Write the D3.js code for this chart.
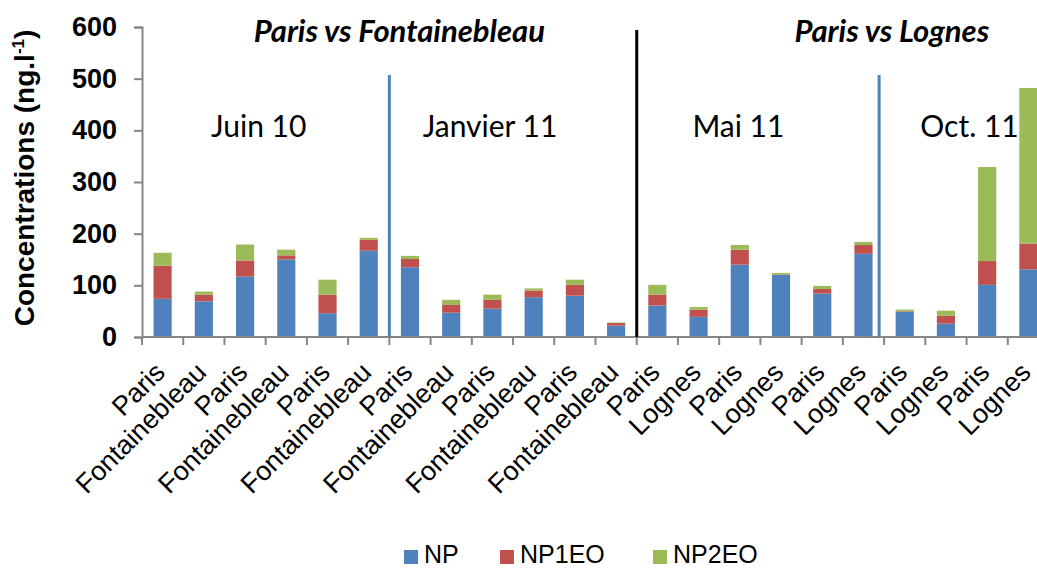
<!DOCTYPE html>
<html>
<head>
<meta charset="utf-8">
<script src="https://cdn.jsdelivr.net/npm/d3@7"></script>
<style>
    body { margin: 0; background: #fff; }
    svg { display: block; }
</style>
</head>
<body>
<div id="chart"></div>
<script>
"use strict";

// Données (ng.l-1)
const sites = [
    "Paris", "Fontainebleau", "Paris", "Fontainebleau", "Paris", "Fontainebleau",
    "Paris", "Fontainebleau", "Paris", "Fontainebleau", "Paris", "Fontainebleau",
    "Paris", "Lognes", "Paris", "Lognes", "Paris", "Lognes",
    "Paris", "Lognes", "Paris", "Lognes"
];
const np = [74, 69, 117, 150, 46, 167, 135, 47, 55, 77, 80, 22, 61, 39, 140, 120, 84, 161, 49, 26, 101, 131];
const np1eo = [64, 13, 31, 8, 36, 21, 16, 15, 17, 13, 21, 5, 21, 14, 29, 1, 9, 17, 1, 15, 46, 50];
const np2eo = [25, 6, 31, 11, 29, 4, 6, 10, 10, 4, 10, 1, 19, 5, 9, 3, 6, 6, 3, 10, 182, 301];
const seriesNames = ["NP", "NP1EO", "NP2EO"];
const colors = ["#4f81bd", "#c0504d", "#9bbb59"];
const yTicks = [0, 100, 200, 300, 400, 500, 600];

// campagnes : premier et dernier indice de barre
const periods = [
    { name: "Juin 10", from: 0, to: 5 },
    { name: "Janvier 11", from: 6, to: 11 },
    { name: "Mai 11", from: 12, to: 17 },
    { name: "Oct. 11", from: 18, to: 21 }
];
const comparisons = [
    { name: "Paris vs Fontainebleau", from: 0, to: 11 },
    { name: "Paris vs Lognes", from: 12, to: 21 }
];

const width = 1037, height = 570;
const plotLeft = 142, plotRight = 1049, plotTop = 27, plotBottom = 337;

const rows = sites.map((s, i) => ({ i: i, NP: np[i], NP1EO: np1eo[i], NP2EO: np2eo[i] }));
const stacked = d3.stack().keys(seriesNames)(rows);

const x = d3.scaleBand()
    .domain(d3.range(sites.length))
    .range([plotLeft, plotRight])
    .paddingInner(0.56)
    .paddingOuter(0.28);
const y = d3.scaleLinear().domain([0, 600]).range([plotBottom, plotTop]);
const step = x.step();
const edge = i => plotLeft + i * step;

const svg = d3.select("#chart").append("svg")
    .attr("width", width)
    .attr("height", height);

// barres empilées
svg.append("g").selectAll("g")
    .data(stacked)
    .join("g")
    .attr("fill", (d, k) => colors[k])
    .selectAll("rect")
    .data(d => d)
    .join("rect")
    .attr("x", d => x(d.data.i))
    .attr("width", x.bandwidth())
    .attr("y", d => y(d[1]))
    .attr("height", d => y(d[0]) - y(d[1]));

// axe Y
const yAxis = svg.append("g")
    .attr("transform", `translate(${plotLeft},0)`)
    .call(d3.axisLeft(y).tickValues(yTicks).tickSize(8).tickPadding(17));
yAxis.select(".domain").attr("stroke", "#868686").attr("stroke-width", 2);
yAxis.selectAll(".tick line").attr("stroke", "#868686").attr("stroke-width", 2);
yAxis.selectAll(".tick text")
    .attr("fill", "#000")
    .style("font", "bold 27px 'Liberation Sans', Arial, sans-serif");

// axe X : traits entre catégories
svg.append("line")
    .attr("x1", plotLeft).attr("x2", plotRight)
    .attr("y1", y(0)).attr("y2", y(0))
    .attr("stroke", "#868686").attr("stroke-width", 2);
svg.append("g").selectAll("line")
    .data(d3.range(sites.length + 1))
    .join("line")
    .attr("x1", d => edge(d)).attr("x2", d => edge(d))
    .attr("y1", y(0)).attr("y2", y(0) + 8)
    .attr("stroke", "#868686").attr("stroke-width", 2);

svg.append("g").selectAll("text")
    .data(sites)
    .join("text")
    .attr("transform", (d, i) => `translate(${x(i) + x.bandwidth() / 2 + 4},${y(0) + 37}) rotate(-45)`)
    .attr("text-anchor", "end")
    .style("font", "27px 'Liberation Sans', Arial, sans-serif")
    .text(d => d);

// titre de l'axe Y
const yTitle = svg.append("text")
    .attr("transform", `translate(34,${(plotTop + plotBottom) / 2 - 4}) rotate(-90)`)
    .attr("text-anchor", "middle")
    .style("font", "bold 28px 'Liberation Sans', Arial, sans-serif");
yTitle.append("tspan").text("Concentrations (ng.l");
yTitle.append("tspan").attr("dy", -10).style("font-size", "17px").text("-1");
yTitle.append("tspan").attr("dy", 10).text(")");

// séparateurs
svg.append("line")
    .attr("x1", edge(12)).attr("x2", edge(12))
    .attr("y1", 30).attr("y2", y(0))
    .attr("stroke", "#000").attr("stroke-width", 3);
svg.append("g").selectAll("line")
    .data([6, 18])
    .join("line")
    .attr("x1", d => edge(d) - (d === 18 ? 5 : 0))
    .attr("x2", d => edge(d) - (d === 18 ? 5 : 0))
    .attr("y1", y(507)).attr("y2", y(0))
    .attr("stroke", "#4f81bd").attr("stroke-width", 3);

// annotations
const periodShift = [-7, -23, -22, 3];
svg.append("g").selectAll("text")
    .data(periods)
    .join("text")
    .attr("x", (d, k) => (edge(d.from) + edge(d.to + 1)) / 2 + periodShift[k])
    .attr("y", 137)
    .attr("text-anchor", "middle")
    .style("font", "30px Lato, 'Open Sans', sans-serif")
    .text(d => d.name);

const compShift = [10, 49];
svg.append("g").selectAll("text")
    .data(comparisons)
    .join("text")
    .attr("x", (d, k) => (edge(d.from) + edge(d.to + 1)) / 2 + compShift[k])
    .attr("y", 42)
    .attr("text-anchor", "middle")
    .style("font", "italic bold 31px Lato, 'Open Sans', sans-serif")
    .text(d => d.name);

// légende
const legendX = [404, 500, 653];
const legend = svg.append("g").selectAll("g")
    .data(seriesNames)
    .join("g")
    .attr("transform", (d, k) => `translate(${legendX[k]},550)`);
legend.append("rect")
    .attr("width", 14).attr("height", 14)
    .attr("fill", (d, k) => colors[k]);
legend.append("text")
    .attr("x", 20).attr("y", 13)
    .style("font", "25px 'Liberation Sans', Arial, sans-serif")
    .text(d => d);
</script>
</body>
</html>
